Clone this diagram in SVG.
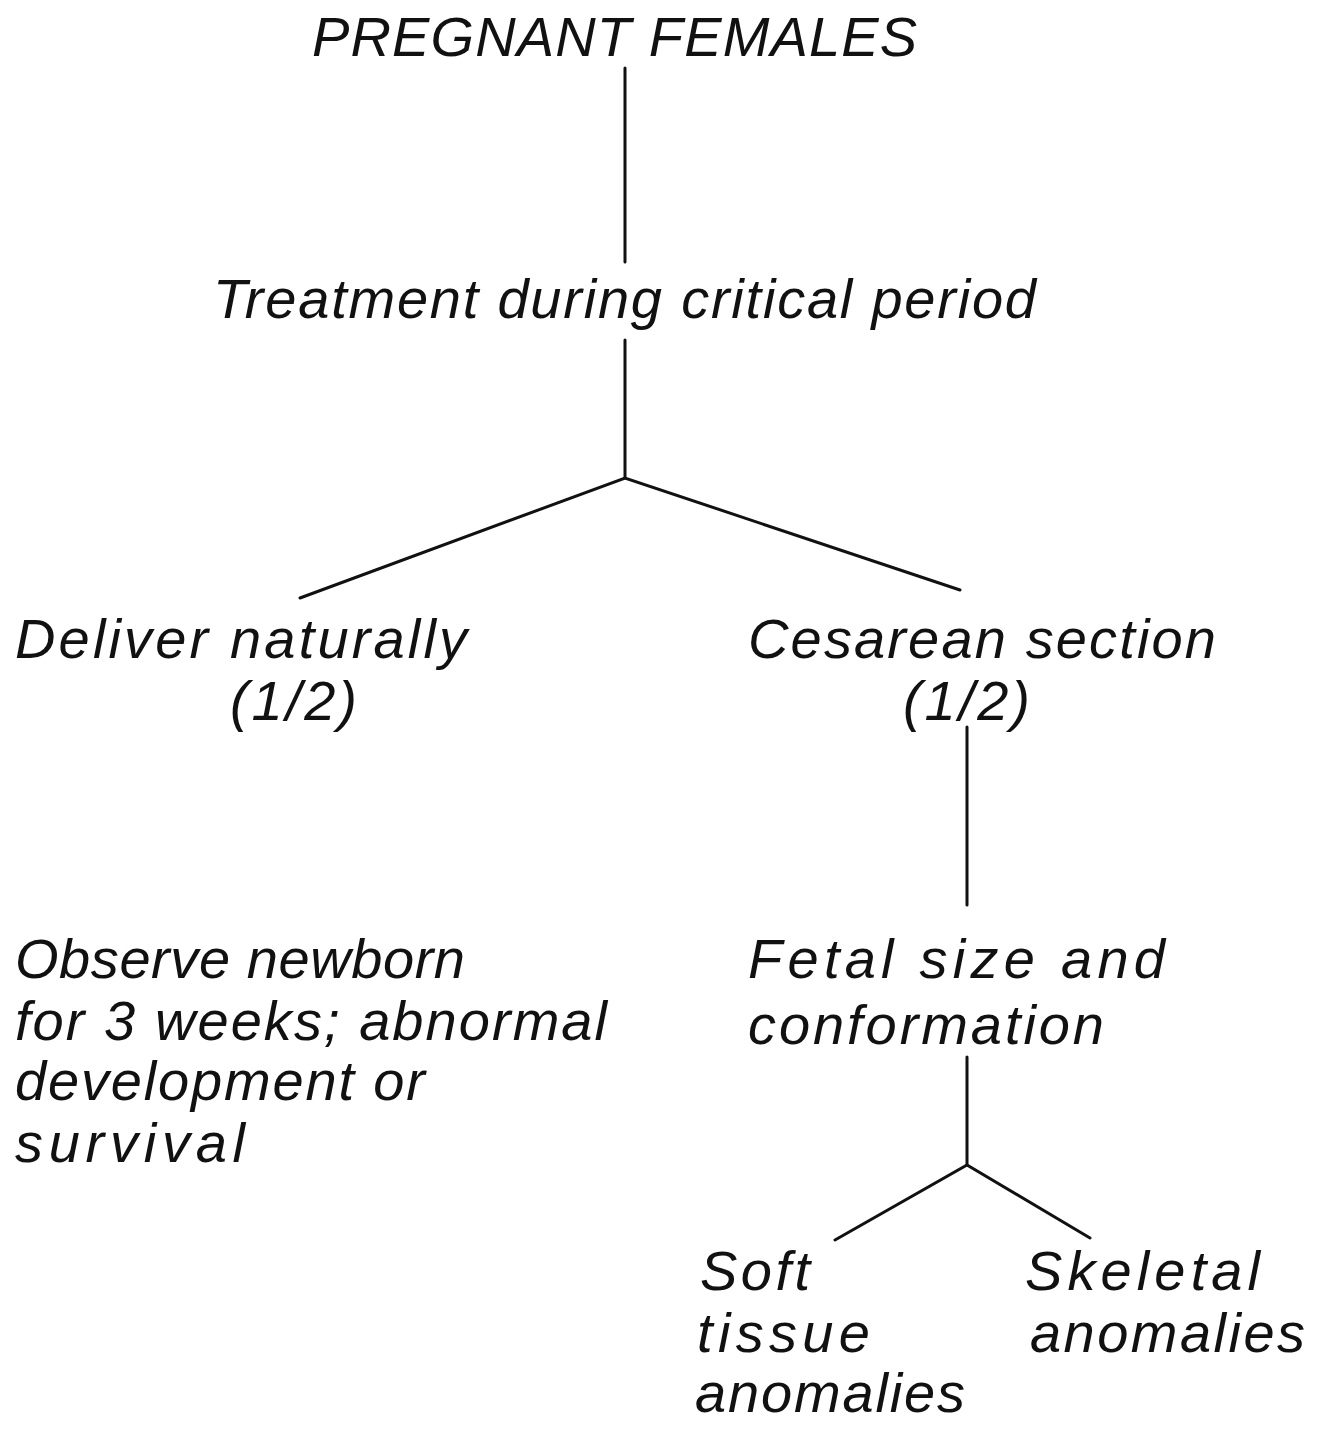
<svg xmlns="http://www.w3.org/2000/svg" width="1329" height="1435" viewBox="0 0 1329 1435">
<style>
text{font-family:"Liberation Sans","DejaVu Sans",sans-serif;font-style:italic;font-size:56px;fill:#111;}
.ln{stroke:#111;stroke-width:3;fill:none;stroke-linecap:round;}
</style>
<rect width="1329" height="1435" fill="#fff"/>
<g id="connectors">
<line class="ln" x1="625" y1="68" x2="625" y2="262"/>
<line class="ln" x1="625" y1="340" x2="625" y2="478"/>
<polyline class="ln" points="300,598 625,478 960,590"/>
<line class="ln" x1="967" y1="727" x2="967" y2="905"/>
<line class="ln" x1="967" y1="1057" x2="967" y2="1165"/>
<polyline class="ln" points="835,1240 967,1165 1090,1238"/>
</g>
<g id="n-pregnant"><text x="312" y="56" textLength="605" lengthAdjust="spacing" font-size="52">PREGNANT FEMALES</text></g>
<g id="n-treatment"><text x="213" y="318" textLength="823" lengthAdjust="spacing">Treatment during critical period</text></g>
<g id="n-deliver"><text x="15" y="658" textLength="452" lengthAdjust="spacing">Deliver naturally</text><text x="230" y="720" textLength="127" lengthAdjust="spacing">(1/2)</text></g>
<g id="n-cesarean"><text x="748" y="658" textLength="468" lengthAdjust="spacing">Cesarean section</text><text x="903" y="720" textLength="127" lengthAdjust="spacing">(1/2)</text></g>
<g id="n-observe"><text x="15" y="978" textLength="450" lengthAdjust="spacing">Observe newborn</text><text x="15" y="1040" textLength="592" lengthAdjust="spacing">for 3 weeks; abnormal</text><text x="15" y="1100" textLength="410" lengthAdjust="spacing">development or</text><text x="15" y="1162" textLength="230" lengthAdjust="spacing">survival</text></g>
<g id="n-fetal"><text x="748" y="978" textLength="417" lengthAdjust="spacing">Fetal size and</text><text x="748" y="1044" textLength="356" lengthAdjust="spacing">conformation</text></g>
<g id="n-soft"><text x="700" y="1290" textLength="110" lengthAdjust="spacing">Soft</text><text x="697" y="1352" textLength="173" lengthAdjust="spacing">tissue</text><text x="695" y="1412" textLength="270" lengthAdjust="spacing">anomalies</text></g>
<g id="n-skeletal"><text x="1025" y="1290" textLength="235" lengthAdjust="spacing">Skeletal</text><text x="1030" y="1352" textLength="275" lengthAdjust="spacing">anomalies</text></g>
</svg>
